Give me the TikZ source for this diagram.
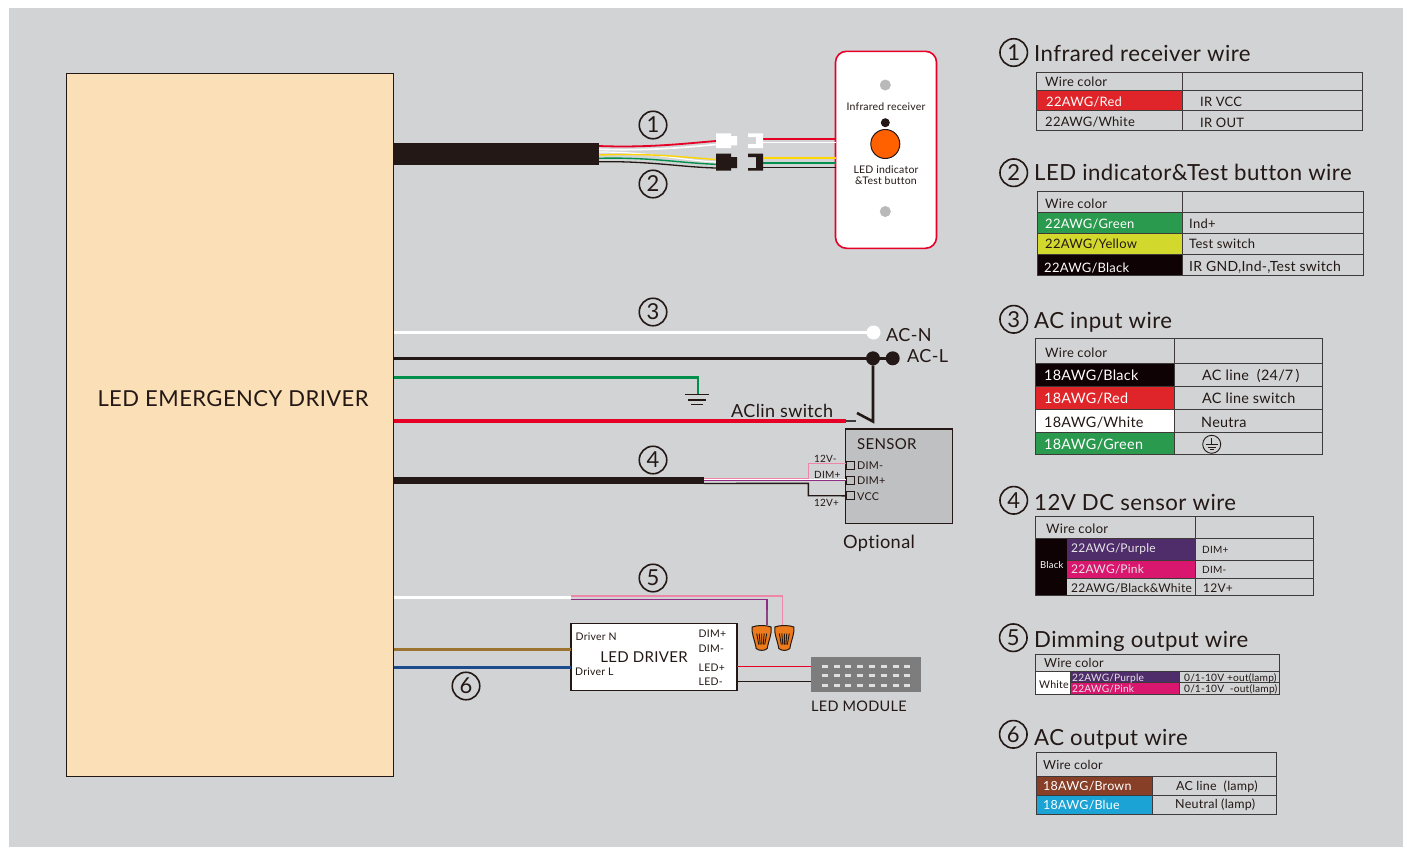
\documentclass[tikz,border=0pt]{standalone}
\usepackage{fontspec}
\setmainfont{Lato}[LetterSpace=2,Ligatures=NoCommon]
\definecolor{panel gray}{HTML}{D1D3D4}
\definecolor{ink}{HTML}{231815}
\definecolor{rule gray}{HTML}{3E3A39}
\definecolor{driver tan}{HTML}{FADFB7}
\definecolor{wire red}{HTML}{E60026}
\definecolor{wire yellow}{HTML}{FFD500}
\definecolor{wire green}{HTML}{00904C}
\definecolor{wire pink}{HTML}{EE86A8}
\definecolor{wire purple}{HTML}{912C85}
\definecolor{wire brown}{HTML}{9C7430}
\definecolor{wire blue}{HTML}{1D4C8C}
\definecolor{cell red}{HTML}{DF2529}
\definecolor{cell green}{HTML}{2A9A4F}
\definecolor{cell yellow}{HTML}{D2D82C}
\definecolor{cell black}{HTML}{0E0204}
\definecolor{cell purple}{HTML}{4F2D6B}
\definecolor{cell pink}{HTML}{D9176F}
\definecolor{cell brown}{HTML}{873F27}
\definecolor{cell blue}{HTML}{1CA3D6}
\definecolor{nut orange}{HTML}{EE7B1B}
\definecolor{sensor gray}{HTML}{BFC0C2}
\definecolor{module gray}{HTML}{7D7D7D}
\tikzset{
	size/.style={font=\fontsize{#1}{#1}\selectfont},
	label text/.style={text=ink,inner sep=0pt,size=#1},
	cell text/.style={anchor=mid west,inner sep=0pt,size=#1,yshift={-(0.36*#1-2.15)*1pt}},
	side text/.style={text=ink,cell text=#1},
	heading/.style={text=ink,cell text=22.2},
	number/.style={circle,draw=ink,line width=1.6,text=ink,inner sep=0pt,outer sep=0pt,minimum size=27.5,size=22},
	dot/.style={circle,fill=#1,inner sep=0pt,outer sep=0pt,minimum size=14},
	port/.style={draw=ink,line width=0.9,inner sep=0pt,outer sep=0pt,minimum size=8},
	grid line/.style={draw=rule gray,line width=1},
	wirenut/.pic={
		\filldraw[fill=nut orange,draw=ink,line width=1] (-9.5,1.5) .. controls (-5,-0.5) and (5,-0.5) .. (9.5,1.5)
			.. controls (10.5,8) and (7,14) .. (5.5,23) .. controls (3,25.5) and (-3,25.5) .. (-5.5,23)
			.. controls (-7,14) and (-10.5,8) .. cycle;
		\draw[ink,line width=0.9] (-5,8) -- (-3,19) (-2.5,8) -- (-1.5,19) (0,8) -- (0,19) (2.5,8) -- (1.5,19) (5,8) -- (3,19);
	},
}
\begin{document}
\begin{tikzpicture}[x=1pt,y=-1pt]
	\useasboundingbox (0,0) rectangle (1407,847);
	\fill[white] (0,0) rectangle (1407,847);
	\fill[panel gray] (9,8) rectangle (1403,847);

	% main box and cables
	\node[draw=ink,line width=1,fill=driver tan,outer sep=0pt,inner sep=0pt,minimum width=327.5,minimum height=703] (driver) at (230.2,424.5) {};
	\node[label text=22] (drivertext) at (233,399) {LED EMERGENCY DRIVER};
	\fill[ink] (394,143) rectangle (599,165);
	\fill[ink] (394,476.5) rectangle (704,484);

	% infrared receiver plate
	\node[draw=wire red,line width=1.6,fill=white,rounded corners=11,outer sep=0pt,minimum width=101,minimum height=197] (plate) at (886,149.8) {};
	\node[circle,fill=gray!55,minimum size=11,inner sep=0pt] (holeA) at (885.3,85) {};
	\node[circle,fill=gray!55,minimum size=11,inner sep=0pt] (holeB) at (885.3,211.5) {};
	\node[circle,fill=ink,minimum size=9,inner sep=0pt] (irdot) at (885.3,122.7) {};
	\node[circle,draw=ink,line width=1,fill=orange!75!red,minimum size=29,inner sep=0pt] (button) at (885.3,144) {};
	\node[label text=10.5] (irtext) at (886,106.5) {Infrared receiver};
	\node[label text=10.5] (ledtext) at (886,170) {LED indicator};
	\node[label text=10.5] (testtext) at (886,181) {\&Test button};

	% wires 1 and 2
	\draw[white,line width=1.6] (599,149.3) .. controls (650,151) and (690,147) .. (716,144.5);
	\draw[wire red,line width=1.8] (599,146) .. controls (650,148) and (690,143) .. (716,141);
	\draw[ink,line width=1.3] (599,161.7) .. controls (650,161) and (680,167) .. (716,168);
	\draw[white,line width=1.2] (599,152) .. controls (650,152) and (680,160) .. (716,162);
	\draw[wire green,line width=1.4] (599,158.3) .. controls (650,157) and (680,163) .. (716,164.3);
	\draw[wire yellow,line width=1.4] (599,155) .. controls (650,153) and (680,157) .. (716,159.5);
	\draw[wire red,line width=1.8] (763,139.3) -- (plate.west |- 0,139.3);
	\draw[white,line width=1.6] (763,142.5) -- (plate.west |- 0,142.5);
	\draw[wire yellow,line width=1.6] (763,158) -- (plate.west |- 0,158);
	\draw[wire green,line width=1.6] (763,162.7) -- (plate.west |- 0,162.7);
	\draw[ink,line width=1.3] (763,167.5) -- (plate.west |- 0,167.5);
	% plugs
	\fill[white] (716,133.3) -- (731,133.3) -- (731,136) -- (737,136) -- (737,145.3) -- (731,145.3) -- (731,148) -- (716,148) -- cycle;
	\fill[white] (748,133.3) -- (763,133.3) -- (763,148) -- (748,148) -- (748,144) -- (756,144) -- (756,137) -- (748,137) -- cycle;
	\fill[ink] (716,153.7) -- (731,153.7) -- (731,157) -- (737,157) -- (737,168) -- (731,168) -- (731,170.7) -- (716,170.7) -- cycle;
	\fill[ink] (748,153.7) -- (763,153.7) -- (763,170.7) -- (748,170.7) -- (748,168) -- (756,168) -- (756,157) -- (748,157) -- cycle;
	\node[number] (numA) at (653,125) {1};
	\node[number] (numB) at (653,184) {2};

	% AC input wires
	\node[number] (numC) at (653,312) {3};
	\node[dot=white] (acn) at (873.5,332.5) {};
	\node[dot=ink] (acl) at (873,358.3) {};
	\node[dot=ink] (aclb) at (892.7,358.3) {};
	\node[side text=18] (acntext) at (886,335) {AC-N};
	\node[side text=18] (acltext) at (907,356) {AC-L};
	\coordinate (swA) at (873,421.5);
	\coordinate (swB) at (857,413);
	\coordinate (swC) at (846,421);
	\coordinate (swD) at (856,421);
	\coordinate (earth) at (698,394.5);
	\draw[white,line width=2.8] (driver.east |- acn) -- (acn);
	\draw[ink,line width=2.8] (driver.east |- acl) -- (aclb);
	\draw[ink,line width=2.6] (acl) -- (swA) -- (swB);
	\draw[wire red,line width=3.2] (driver.east |- swC) -- (swC);
	\draw[rule gray,line width=2.8] (swC) -- (swD);
	\draw[wire green,line width=2.4] (driver.east |- 0,377.5) -- (earth |- 0,377.5) -- (earth);
	\draw[ink,line width=1.2] (685,394.5) -- (709,394.5) (688,400) -- (706,400) (691,404.7) -- (703,404.7);
	\node[side text=18] (swtext) at (731,411) {AClin switch};

	% sensor
	\node[draw=ink,line width=1.2,fill=sensor gray,outer sep=0pt,inner sep=0pt,minimum width=107,minimum height=94.5] (sensor) at (899.2,476.2) {};
	\node[side text=15] (sensortext) at (857,444) {SENSOR};
	\node[port] (dimm) at (850,465.3) {};
	\node[port] (dimp) at (850,480.2) {};
	\node[port] (vcc) at (850,495.8) {};
	\node[side text=10.8] (dimmtext) at (857,465) {DIM-};
	\node[side text=10.8] (dimptext) at (857,480.5) {DIM+};
	\node[side text=10.8] (vcctext) at (857,496) {VCC};
	\node[side text=10] (vminus) at (814,458.5) {12V-};
	\node[side text=10] (dimplus) at (814,475) {DIM+};
	\node[side text=10] (vplus) at (814,503) {12V+};
	\node[side text=18.2] (optional) at (843,542) {Optional};
	\node[number] (numD) at (653,460) {4};
	\coordinate (cableD) at (704,480);
	\draw[wire pink,line width=1.2] (cableD |- 0,478.3) -- (808.3,478.3) -- (808.3,463.3) -- (dimm.west |- 0,463.3);
	\draw[white,line width=0.6] (cableD |- 0,479.4) -- (dimp.west |- 0,479.4);
	\draw[wire purple,line width=1.2] (cableD |- 0,480.5) -- (dimp.west |- 0,480.5);
	\draw[ink,line width=1.4] (cableD |- 0,483.5) -- (808.3,483.3) -- (808.3,495.7) -- (vcc.west);

	% dimming wires and LED driver
	\node[number] (numE) at (653,578) {5};
	\node[draw=ink,line width=1.2,fill=white,outer sep=0pt,inner sep=0pt,minimum width=166,minimum height=67.5] (leddriver) at (654,657) {};
	\node[label text=15] (leddrivertext) at (644,657) {LED DRIVER};
	\node[side text=10.5] (drvn) at (575.5,636.5) {Driver N};
	\node[side text=10.5] (drvl) at (575,671.5) {Driver L};
	\node[side text=10.5] (pdimp) at (698.5,633) {DIM+};
	\node[side text=10.5] (pdimm) at (698.5,648) {DIM-};
	\node[side text=10.5] (pledp) at (698.5,667) {LED+};
	\node[side text=10.5] (pledm) at (698.5,681.5) {LED-};
	\coordinate (split) at (571,597.7);
	\draw[white,line width=3] (driver.east |- split) -- (split);
	\draw[wire pink,line width=1.2] (split |- 0,596) -- (782.7,596) -- (782.7,625);
	\draw[wire purple,line width=1.2] (split |- 0,599.3) -- (767,599.3) -- (767,610);
	\draw[wire purple!70!gray,line width=1.2] (767,610) -- (767,625);
	\pic at (761.7,625.5) {wirenut};
	\pic at (784.3,625.5) {wirenut};
	\draw[wire brown,line width=2.8] (driver.east |- 0,649.7) -- (leddriver.west |- 0,649.7);
	\draw[wire blue,line width=2.8] (driver.east |- 0,667.7) -- (leddriver.west |- 0,667.7);
	\node[number] (numF) at (466,686) {6};

	% LED module
	\node[fill=module gray,outer sep=0pt,inner sep=0pt,minimum width=110,minimum height=34.7] (module) at (866,674.3) {};
	\foreach \y in {666.3,675.7,685.3}
		\foreach \x in {824.8,836.6,848.4,860.2,872,883.8,895.6,907.4}
			\fill[gray!25] (\x-3,\y-1.5) rectangle (\x+3,\y+1.5);
	\draw[wire red,line width=1.4] (leddriver.east |- 0,666.7) -- (module.west |- 0,666.7);
	\draw[ink,line width=1.3] (leddriver.east |- 0,681.5) -- (module.west |- 0,681.5);
	\node[side text=14.5] (moduletext) at (811,706) {LED MODULE};

	% table 1
	\node[number] (headA) at (1013.7,52.5) {1};
	\node[heading] (titleA) at (1034,53) {Infrared receiver wire};
	\fill[cell red] (1036.7,90) rectangle (1182.7,110.3);
	\draw[grid line] (1036.7,72) rectangle (1362.7,130.3) (1036.7,90) -- (1362.7,90) (1036.7,110.3) -- (1362.7,110.3) (1182.7,72) -- (1182.7,130.3);
	\foreach \nm/\px/\py/\cl/\tx in {tAa/1045/81/ink/Wire color,tAb/1046/101/white/22AWG\slash Red,tAc/1045/121/ink/22AWG\slash White,tAd/1200/101/ink/IR VCC,tAe/1200/122/ink/IR OUT}
		\node[cell text=13,text=\cl] (\nm) at (\px,\py) {\tx};

	% table 2
	\node[number] (headB) at (1013.7,172.7) {2};
	\node[heading] (titleB) at (1034,172) {LED indicator\&Test button wire};
	\fill[cell green] (1037,212.7) rectangle (1182,233.7);
	\fill[cell yellow] (1037,233.7) rectangle (1182,254.7);
	\fill[cell black] (1037,254.7) rectangle (1182,275.7);
	\draw[grid line] (1037,191.3) rectangle (1363,275.7) (1037,212.7) -- (1363,212.7) (1037,233.7) -- (1363,233.7) (1037,254.7) -- (1363,254.7) (1182,191.3) -- (1182,275.7);
	\foreach \nm/\px/\py/\cl/\tx in {tBa/1045/203/ink/Wire color,tBb/1045/223/white/22AWG\slash Green,tBc/1045/243/ink/22AWG\slash Yellow,tBd/1044/267/white/22AWG\slash Black,tBe/1189/223/ink/Ind+,tBf/1189/243/ink/Test switch}
		\node[cell text=13,text=\cl] (\nm) at (\px,\py) {\tx};
	\node[cell text=14,text=ink] (tBg) at (1189,266) {IR GND,Ind-,Test switch};

	% table 3
	\node[number] (headC) at (1013.7,319.3) {3};
	\node[heading] (titleC) at (1034,320.5) {AC input wire};
	\fill[cell black] (1035.7,363) rectangle (1174.3,386.3);
	\fill[cell red] (1035.7,386.3) rectangle (1174.3,409.3);
	\fill[white] (1035.7,409.3) rectangle (1174.3,432.3);
	\fill[cell green] (1035.7,432.3) rectangle (1174.3,454.3);
	\draw[grid line] (1035.7,338) rectangle (1322.3,454.3) (1035.7,363) -- (1322.3,363) (1035.7,386.3) -- (1322.3,386.3) (1035.7,409.3) -- (1322.3,409.3) (1035.7,432.3) -- (1322.3,432.3) (1174.3,338) -- (1174.3,454.3);
	\foreach \nm/\px/\py/\cl/\tx in {tCb/1044/375/white/18AWG\slash Black,tCc/1044/398/white/18AWG\slash Red,tCd/1044/422/ink/18AWG\slash White,tCe/1044/444/white/18AWG\slash Green,tCf/1202/375/ink/AC line\ \ (24\slash 7\,),tCg/1202/398/ink/AC line switch,tCh/1201/422/ink/Neutra}
		\node[cell text=14.4,text=\cl] (\nm) at (\px,\py) {\tx};
	\node[cell text=13,text=ink] (tCa) at (1045,352) {Wire color};
	\node[circle,draw=ink,line width=0.9,minimum size=18,inner sep=0pt] (tCi) at (1211.7,444.3) {};
	\draw[ink,line width=0.9] (1211.7,438) -- (1211.7,444.5) (1205.5,444.5) -- (1218,444.5) (1207.5,447) -- (1216,447) (1209.5,449.5) -- (1214,449.5);

	% table 4
	\node[number] (headD) at (1013.7,500.3) {4};
	\node[heading] (titleD) at (1034,502) {12V DC sensor wire};
	\fill[cell black] (1035.7,538) rectangle (1067.3,595.3);
	\fill[cell purple] (1067.3,538) rectangle (1195.7,560.3);
	\fill[cell pink] (1067.3,560.3) rectangle (1195.7,578.7);
	\draw[grid line] (1035.7,516.7) rectangle (1313.3,595.3) (1035.7,538) -- (1313.3,538) (1067.3,560.3) -- (1313.3,560.3) (1067.3,578.7) -- (1313.3,578.7) (1195.7,516.7) -- (1195.7,595.3);
	\node[cell text=13,text=ink] (tDa) at (1046,528) {Wire color};
	\node[cell text=9.5,text=white] (tDb) at (1040,565) {Black};
	\foreach \nm/\py/\cl/\tx in {tDc/548/gray!20/22AWG\slash Purple,tDd/569/gray!20/22AWG\slash Pink,tDe/588/ink/22AWG\slash Black\&White}
		\node[cell text=12,text=\cl] (\nm) at (1071,\py) {\tx};
	\node[cell text=10,text=ink] (tDf) at (1202,550) {DIM+};
	\node[cell text=10,text=ink] (tDg) at (1202,570) {DIM-};
	\node[cell text=12,text=ink] (tDh) at (1203,588) {12V+};

	% table 5
	\node[number] (headE) at (1013.3,637.7) {5};
	\node[heading] (titleE) at (1034,639) {Dimming output wire};
	\fill[white] (1035.3,671) rectangle (1070,694.3);
	\fill[cell purple] (1070,671) rectangle (1179,682.7);
	\fill[cell pink] (1070,682.7) rectangle (1179,694.3);
	\draw[grid line] (1035.3,654.7) rectangle (1279.3,694.3) (1035.3,671) -- (1279.3,671) (1070,682.7) -- (1279.3,682.7) (1070,671) -- (1070,694.3) (1179,671) -- (1179,694.3);
	\node[cell text=12.5,text=ink] (tEa) at (1044,663) {Wire color};
	\node[cell text=10.6,text=ink] (tEb) at (1039,684) {White};
	\foreach \nm/\px/\py/\cl/\tx in {tEc/1072/677/gray!20/22AWG\slash Purple,tEd/1072/688/gray!20/22AWG\slash Pink,tEe/1184/677/ink/0\slash 1-10V +out(lamp),tEf/1184/688/ink/0\slash 1-10V\ \ -out(lamp)}
		\node[cell text=10.2,text=\cl] (\nm) at (\px,\py) {\tx};

	% table 6
	\node[number] (headF) at (1013.3,734.3) {6};
	\node[heading] (titleF) at (1034,737) {AC output wire};
	\fill[cell brown] (1036,776.3) rectangle (1152.3,795.3);
	\fill[cell blue] (1036,795.3) rectangle (1152.3,814.3);
	\draw[grid line] (1036,752) rectangle (1276.7,814.3) (1036,776.3) -- (1276.7,776.3) (1036,795.3) -- (1276.7,795.3) (1152.3,776.3) -- (1152.3,814.3);
	\foreach \nm/\px/\py/\cl/\tx in {tFa/1043/765/ink/Wire color,tFb/1043/786/white/18AWG\slash Brown,tFc/1043/805/white/18AWG\slash Blue,tFd/1176/786/ink/AC line\ \ (lamp),tFe/1175/804/ink/Neutral (lamp)}
		\node[cell text=12.5,text=\cl] (\nm) at (\px,\py) {\tx};
\end{tikzpicture}
\end{document}
